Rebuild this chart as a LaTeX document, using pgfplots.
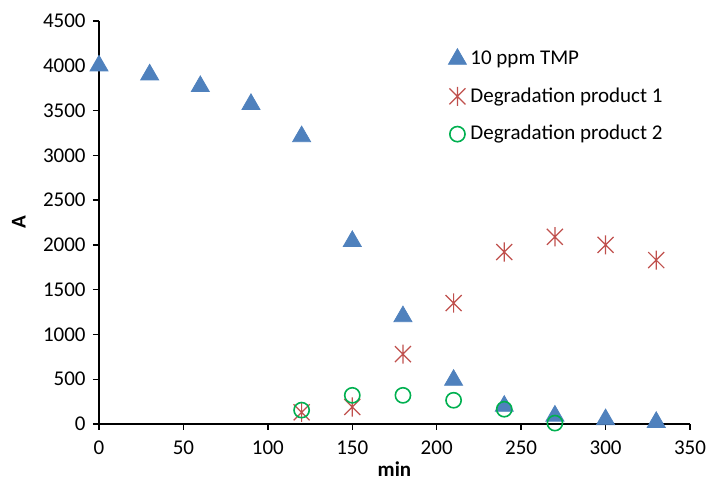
\documentclass[border=0pt]{standalone}
\usepackage{pgfplots}
\pgfplotsset{compat=1.18}
\usepackage{fontspec}
\setmainfont{Carlito}
\definecolor{tmpblue}{HTML}{4F81BD}
\definecolor{prodred}{HTML}{C0504D}
\definecolor{prodgreen}{HTML}{00B050}
\pgfdeclareplotmark{xstar}{%
  \pgfpathmoveto{\pgfqpoint{-\pgfplotmarksize}{-\pgfplotmarksize}}%
  \pgfpathlineto{\pgfqpoint{\pgfplotmarksize}{\pgfplotmarksize}}%
  \pgfpathmoveto{\pgfqpoint{-\pgfplotmarksize}{\pgfplotmarksize}}%
  \pgfpathlineto{\pgfqpoint{\pgfplotmarksize}{-\pgfplotmarksize}}%
  \pgfpathmoveto{\pgfqpoint{0pt}{-1.2\pgfplotmarksize}}%
  \pgfpathlineto{\pgfqpoint{0pt}{1.2\pgfplotmarksize}}%
  \pgfusepathqstroke}
\begin{document}
\fontsize{10.5}{12.6}\selectfont
\begin{tikzpicture}
\begin{axis}[
  scale only axis,
  width=295.5pt, height=201.5pt,
  xmin=0, xmax=350, ymin=0, ymax=4500,
  xtick distance=50, ytick distance=500,
  axis x line=bottom, axis y line=left,
  axis line style={-, black, line width=0.7pt},
  tick align=outside, major tick length=3pt,
  tick style={black, line width=0.7pt},
  /pgf/number format/assume math mode=true,
  /pgf/number format/1000 sep={},
  ticklabel style={font=\fontsize{10.5}{12.6}\selectfont},
  xticklabel style={yshift=-1.5pt},
  xlabel={\textbf{min}}, ylabel={\textbf{A}},
  xlabel style={font=\fontsize{10.5}{12.6}\selectfont, yshift=3.3pt},
  ylabel style={font=\fontsize{10.5}{12.6}\selectfont, yshift=1.5pt},
  legend style={at={(0.5804,0.947)}, anchor=north west, draw=none, fill=none,
    font=\fontsize{10.5}{12.6}\selectfont, row sep=6pt},
  legend image post style={xshift=3pt},
  legend cell align=left,
  clip=false,
]
\coordinate (ll) at (rel axis cs:0,0);
\coordinate (ur) at (rel axis cs:1,1);
\addplot[only marks, mark=triangle*, mark size=5.2pt, color=tmpblue] coordinates {
(0,4000) (30,3900) (60,3770) (90,3570) (120,3210) (150,2040)
(180,1200) (210,490) (240,200) (270,90) (300,50) (330,20)};
\addlegendentry{10 ppm TMP}
\addplot[only marks, mark=xstar, mark size=4pt, color=prodred, line width=0.6pt] coordinates {
(120,130) (150,190) (180,780) (210,1350) (240,1920) (270,2090) (300,2000) (330,1830)};
\addlegendentry{Degradation product 1}
\addplot[only marks, mark=o, mark size=3.8pt, color=prodgreen, line width=0.8pt] coordinates {
(120,155) (150,320) (180,320) (210,265) (240,165) (270,10)};
\addlegendentry{Degradation product 2}
\end{axis}
\pgfresetboundingbox
\path[use as bounding box] ([xshift=-49.5pt,yshift=-27.5pt]ll) rectangle ([xshift=9pt,yshift=10.5pt]ur);
\end{tikzpicture}
\end{document}
